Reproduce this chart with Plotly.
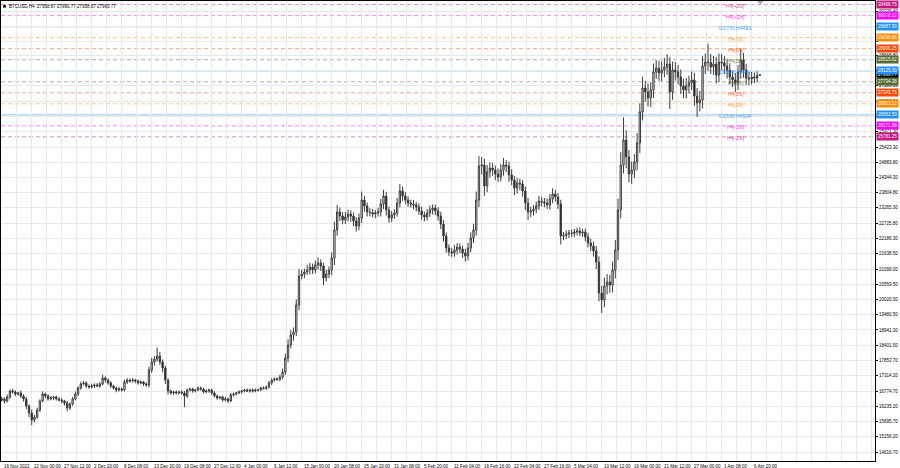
import plotly.graph_objects as go

# ---------------- data ----------------
symbol_header = "BTCUSD,H4  27958.67 27990.77 27958.67 27990.77"
first_open = 16460.0
closes = [
    16495, 16424, 16566, 16778, 16743, 16672, 16708, 16601, 16495, 16247,
    15999, 15751, 15857, 16105, 16424, 16672, 16601, 16495, 16530, 16566,
    16495, 16460, 16424, 16353, 16176, 16318, 16495, 16672, 16885, 17026,
    17062, 16956, 16920, 16956, 16991, 16956, 17026, 17239, 17168, 17062,
    16956, 16885, 16814, 16849, 16814, 17097, 17168, 17133, 17168, 17133,
    17062, 17097, 17026, 16991, 17522, 17806, 17912, 18018, 17806, 17593,
    17168, 16778, 16708, 16743, 16708, 16743, 16708, 16601, 16814, 16849,
    16778, 16814, 16885, 16849, 16743, 16778, 16814, 16708, 16601, 16530,
    16566, 16460, 16495, 16424, 16637, 16672, 16708, 16743, 16778, 16814,
    16778, 16814, 16778, 16814, 16820, 16885, 16870, 16920, 17062, 17168,
    17204, 17190, 17274, 17452, 17948, 18408, 18762, 18869, 19825, 20853,
    20924, 20995, 21065, 21172, 21065, 21243, 21313, 21207, 20782, 20924,
    21065, 21491, 22483, 23120, 22979, 22837, 22943, 23049, 22979, 22801,
    22624, 22908, 23546, 23333, 23120, 23100, 23049, 23085, 23120, 23404,
    23687, 23191, 22908, 23014, 23085, 23439, 23864, 23687, 23546, 23439,
    23404, 23368, 23297, 23156, 23014, 22943, 23085, 23191, 23262, 23156,
    22979, 22695, 22270, 21845, 21703, 21668, 21774, 21880, 21809, 21668,
    21561, 21845, 22199, 22483, 23546, 24750, 24786, 24042, 24538, 24679,
    24608, 24467, 24360, 24608, 24786, 24750, 24431, 24254, 23971, 24148,
    24112, 23864, 23439, 23120, 23156, 23227, 23333, 23510, 23475, 23439,
    23368, 23581, 23758, 23652, 23404, 22270, 22290, 22341, 22376, 22360,
    22412, 22447, 22376, 22412, 22235, 22022, 21916, 21739, 21349, 20251,
    20003, 20499, 20640, 20534, 21065, 21774, 23191, 24786, 25671, 25069,
    24467, 24608, 24892, 25565, 26663, 27514, 27372, 27159, 27443, 28081,
    28222, 28045, 28151, 28258, 28364, 27372, 28151, 28081, 27903, 27585,
    27443, 27585, 27691, 27797, 27230, 26982, 27089, 28293, 28435, 28420,
    28258, 28364, 27974, 28435, 28399, 28293, 28151, 27903, 27797, 27691,
    28081, 28506, 28151, 27868, 27833, 27903, 27868, 27958.67, 27990.77,
]
wick_up = [
    80, 60, 90, 50, 70, 60, 40, 90, 60, 70,
    60, 120, 70, 80, 60, 90, 50, 60, 70, 40,
    50, 60, 70, 40, 80, 60, 70, 90, 60, 80,
    70, 60, 50, 80, 60, 70, 60, 110, 60, 50,
    60, 40, 50, 70, 50, 90, 60, 50, 70, 40,
    50, 60, 40, 60, 120, 150, 100, 300, 140, 90,
    80, 60, 50, 40, 60, 50, 60, 70, 50, 40,
    50, 40, 60, 50, 40, 60, 50, 40, 60, 50,
    40, 50, 60, 40, 70, 50, 40, 60, 50, 40,
    50, 40, 60, 50, 40, 50, 60, 50, 70, 60,
    50, 60, 80, 120, 150, 200, 180, 160, 200, 250,
    150, 120, 180, 140, 120, 160, 200, 130, 110, 150,
    120, 200, 300, 250, 160, 140, 180, 150, 130, 120,
    140, 160, 300, 150, 120, 140, 130, 110, 150, 180,
    220, 150, 120, 140, 130, 180, 250, 160, 140, 130,
    120, 140, 110, 130, 150, 120, 140, 160, 130, 120,
    130, 150, 140, 120, 130, 150, 180, 140, 130, 120,
    150, 180, 200, 220, 300, 350, 280, 220, 250, 200,
    180, 160, 200, 220, 250, 180, 160, 200, 150, 180,
    150, 140, 160, 180, 150, 140, 160, 180, 150, 140,
    160, 180, 200, 150, 140, 150, 120, 130, 110, 120,
    110, 120, 130, 110, 120, 150, 140, 160, 180, 200,
    250, 300, 280, 260, 300, 350, 400, 450, 800, 350,
    250, 300, 280, 350, 300, 400, 250, 300, 280, 300,
    280, 250, 300, 320, 350, 250, 300, 280, 250, 260,
    250, 280, 260, 300, 250, 280, 320, 350, 300, 650,
    300, 280, 250, 300, 280, 250, 260, 240, 220, 250,
    250, 400, 250, 220, 200, 180, 160, 150, 0,
]
wick_dn = [
    60, 90, 50, 70, 50, 80, 60, 70, 90, 110,
    150, 180, 90, 60, 70, 50, 80, 60, 50, 70,
    60, 50, 80, 90, 120, 70, 60, 50, 80, 60,
    50, 80, 60, 50, 70, 40, 60, 50, 90, 60,
    70, 60, 80, 50, 60, 50, 70, 60, 50, 80,
    60, 50, 70, 60, 80, 100, 120, 90, 110, 150,
    140, 120, 60, 70, 50, 60, 60, 390, 70, 50,
    60, 50, 40, 60, 50, 40, 60, 70, 50, 60,
    50, 60, 50, 70, 40, 60, 50, 40, 60, 50,
    40, 60, 50, 40, 60, 50, 40, 60, 50, 70,
    60, 50, 70, 80, 100, 150, 120, 200, 150, 180,
    120, 150, 110, 160, 140, 120, 150, 180, 260, 130,
    150, 180, 250, 200, 180, 150, 140, 160, 200, 180,
    200, 150, 180, 200, 160, 140, 120, 150, 130, 160,
    180, 200, 170, 150, 140, 130, 160, 180, 150, 140,
    130, 150, 160, 140, 170, 150, 130, 140, 160, 150,
    160, 180, 200, 170, 150, 140, 130, 160, 150, 180,
    200, 160, 150, 180, 200, 250, 300, 350, 220, 200,
    200, 220, 180, 160, 200, 220, 250, 180, 260, 200,
    220, 200, 250, 280, 180, 160, 150, 140, 160, 150,
    140, 160, 150, 170, 180, 300, 150, 130, 140, 120,
    130, 120, 110, 140, 150, 160, 180, 200, 250, 300,
    460, 250, 300, 280, 260, 300, 350, 300, 300, 400,
    300, 350, 280, 300, 350, 300, 350, 300, 320, 280,
    250, 280, 300, 250, 280, 600, 280, 300, 260, 280,
    280, 300, 260, 250, 350, 500, 300, 300, 280, 300,
    250, 280, 300, 250, 260, 280, 300, 260, 250, 320,
    250, 240, 280, 250, 220, 200, 180, 150, 0,
]
bars_per_candle = 3          # H4 bar index step between drawn candles
bars_per_label = 33          # H4 bars between time labels

time_labels = ["16 Nov 2022", "22 Nov 00:00", "27 Nov 12:00", "2 Dec 20:00", "8 Dec 08:00",
               "13 Dec 20:00", "19 Dec 08:00", "27 Dec 12:00", "4 Jan 00:00", "9 Jan 12:00",
               "15 Jan 00:00", "20 Jan 08:00", "25 Jan 20:00", "31 Jan 08:00", "5 Feb 20:00",
               "11 Feb 04:00", "16 Feb 16:00", "22 Feb 04:00", "27 Feb 16:00", "5 Mar 04:00",
               "10 Mar 12:00", "16 Mar 00:00", "21 Mar 12:00", "27 Mar 00:00", "1 Apr 08:00",
               "6 Apr 20:00"]

price_ticks = [30229.40, 29688.60, 29148.70, 28668.80, 28129.30, 27589.80, 27050.30, 26510.80,
               25971.30, 25423.30, 24883.80, 24344.30, 23804.80, 23265.30, 22725.80, 22186.30,
               21638.50, 21099.00, 20559.50, 20020.00, 19480.50, 18941.00, 18401.50, 17853.70,
               17314.20, 16774.70, 16235.20, 15695.70, 15156.20, 14616.70]
# tick labels hidden behind the level price boxes in the reference
hidden_ticks = [29148.70, 28129.30, 26510.80]

level_values = [30468.75, 30078.125, 29687.5, 29296.875, 28906.25, 28515.625, 28125.0,
                27734.375, 27343.75, 26953.125, 26562.5, 26171.875, 25781.25]
level_names = ["H4[+2/8]", "H4[+1/8]", "D1[7/8] H4RES", "H4[7/8]", "H4[6/8]", "H4[5/8]",
               "D1[6/8] H4PIV", "H4[3/8]", "H4[2/8]", "H4[1/8]", "D1[5/8] H4SUP",
               "H4[-1/8]", "H4[-2/8]"]
level_colors = ["#c71585", "#ff00ff", "#1e90ff", "#ff8c00", "#ff4500", "#556b2f",
                "#1e90ff", "#556b2f", "#ff4500", "#ff8c00", "#1e90ff", "#ff00ff", "#c71585"]
level_solid = [False, False, True, False, False, False, True, False, False, False, True, False, False]
current_price = 27990.77

# ---------------- build ----------------
assert len(closes) == len(wick_up) == len(wick_dn)
n = len(closes)
xs = [i * bars_per_candle for i in range(n)]
opens = [first_open] + closes[:-1]
highs = [max(o, c) + u for o, c, u in zip(opens, closes, wick_up)]
lows = [min(o, c) - d for o, c, d in zip(opens, closes, wick_dn)]

FONT = "Liberation Sans"
FS = 4.5

def rgba(hexc, a):
    h = hexc.lstrip("#")
    return "rgba(%d,%d,%d,%.2f)" % (int(h[0:2], 16), int(h[2:4], 16), int(h[4:6], 16), a)

fig = go.Figure()
fig.add_trace(go.Candlestick(
    x=xs, open=opens, high=highs, low=lows, close=closes,
    increasing=dict(line=dict(color="#3c3c3c", width=1), fillcolor="#ffffff"),
    decreasing=dict(line=dict(color="#3c3c3c", width=1), fillcolor="#1a1a1a"),
    whiskerwidth=0, showlegend=False, hoverinfo="skip",
))

shapes = []
annotations = []
label_bar = 807
for v, name, col, solid in zip(level_values, level_names, level_colors, level_solid):
    shapes.append(dict(type="line", xref="paper", x0=0, x1=1, yref="y", y0=v, y1=v,
                       layer="between",
                       line=dict(color=rgba(col, 0.42 if solid else 0.5),
                                 width=1.4 if solid else 1,
                                 dash="solid" if solid else "4px,3px")))
    annotations.append(dict(x=label_bar, y=v, xref="x", yref="y", text=name, showarrow=False,
                            yshift=-1.5, font=dict(family=FONT, size=FS + 0.3, color=rgba(col, 0.85))))

# current price box (drawn first, level boxes over it)
annotations.append(dict(x=1, y=current_price, xref="paper", yref="y", xanchor="left",
                        xshift=1, text="%.2f" % current_price, showarrow=False,
                        bgcolor="#000000", borderpad=1,
                        font=dict(family=FONT, size=FS, color="#ffffff")))
for v, col in zip(level_values, level_colors):
    annotations.append(dict(x=1, y=v, xref="paper", yref="y", xanchor="left", xshift=1,
                            text="%.2f" % v, showarrow=False, bgcolor=col, borderpad=1,
                            font=dict(family=FONT, size=FS, color="#ffffff")))

for k, lab in enumerate(time_labels):
    annotations.append(dict(x=k * bars_per_label, y=0, xref="x", yref="paper", xanchor="left",
                            yanchor="top", yshift=-0.5, text=lab, showarrow=False,
                            font=dict(family=FONT, size=FS, color="#000000")))

annotations.append(dict(x=0.007, y=1, xref="paper", yref="paper", xanchor="left", yanchor="top",
                        yshift=-1, text=symbol_header, showarrow=False,
                        font=dict(family=FONT, size=FS, color="#000000")))
shapes.append(dict(type="rect", xref="paper", yref="paper", x0=0.0025, x1=0.0055,
                   y0=0.9915, y1=0.9855, fillcolor="#000000", line=dict(width=0)))
# chart-shift marker at top
last_bar = xs[-1]
shapes.append(dict(type="path", xref="x", yref="paper",
                   path="M %f,1 L %f,1 L %f,0.993 Z" % (last_bar - 3, last_bar + 4, last_bar + 0.5),
                   fillcolor="#a0a0a0", line=dict(width=0)))

grid_vals = [k * bars_per_label / 2 for k in range(60)]
tick_text = ["" if t in hidden_ticks else "%.2f" % t for t in price_ticks]

fig.update_layout(
    width=900, height=468,
    margin=dict(l=1, r=25, t=1, b=7, autoexpand=False),
    paper_bgcolor="#ffffff", plot_bgcolor="#ffffff",
    shapes=shapes, annotations=annotations,
    xaxis=dict(range=[-0.8, 960.7], tickvals=grid_vals, showticklabels=False, ticks="",
               showgrid=True, gridcolor="#e8e8e8", gridwidth=1, zeroline=False,
               rangeslider=dict(visible=False), showline=True, linecolor="#000000",
               linewidth=1, mirror=True, fixedrange=True),
    yaxis=dict(range=[14298, 30596], side="right", tickvals=price_ticks,
               ticktext=tick_text, ticks="outside", ticklen=2,
               tickcolor="#000000", tickfont=dict(family=FONT, size=FS, color="#000000"),
               showgrid=True, gridcolor="#e8e8e8", gridwidth=1, zeroline=False,
               showline=True, linecolor="#000000", linewidth=1, mirror=True,
               automargin=False, fixedrange=True),
    font=dict(family=FONT, size=FS),
)

fig.write_html("out.html", config={"displayModeBar": False},
               post_script="document.body.style.margin='0';document.body.style.overflow='hidden';")
